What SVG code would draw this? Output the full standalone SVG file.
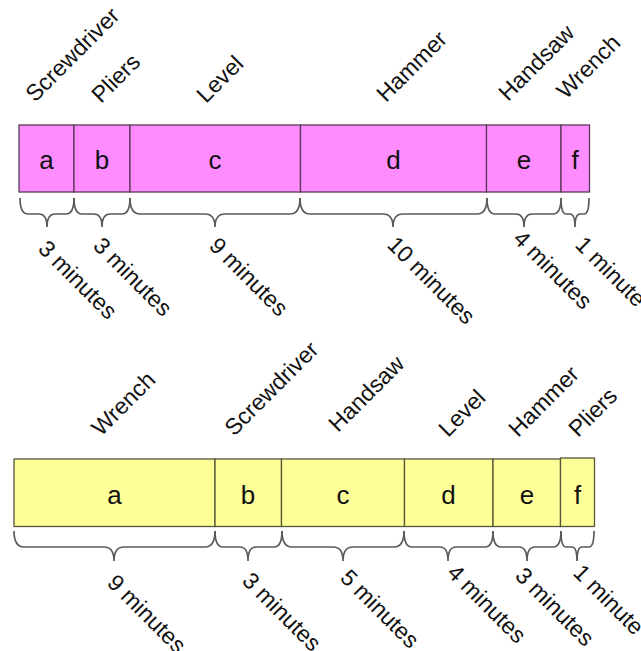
<svg xmlns="http://www.w3.org/2000/svg" width="641" height="651" viewBox="0 0 641 651">
<style>
text{font-family:"Liberation Sans",Arial,sans-serif;fill:#111}
.p{fill:#FF8CFF;stroke:#5a3a5a;stroke-width:1.3}
.y{fill:#FFFF99;stroke:#55553a;stroke-width:1.3}
.l{font-size:26px;text-anchor:middle}
.t{font-size:23px}
.br{fill:none;stroke:#5a5a5a;stroke-width:1.7}
</style>
<rect width="641" height="651" fill="#fff"/>
<g id="top">
<g id="ta"><rect class="p" x="19" y="125" width="55" height="67"/><text class="l" x="46.5" y="169">a</text><text class="t" transform="translate(35,103) rotate(-45)">Screwdriver</text></g>
<g id="tb"><rect class="p" x="74" y="125" width="56" height="67"/><text class="l" x="102" y="169">b</text><text class="t" transform="translate(101,104) rotate(-45)">Pliers</text></g>
<g id="tc"><rect class="p" x="130" y="125" width="170.5" height="67"/><text class="l" x="215" y="169">c</text><text class="t" transform="translate(206,104) rotate(-45)">Level</text></g>
<g id="td"><rect class="p" x="300.5" y="125" width="186" height="67"/><text class="l" x="393.5" y="169">d</text><text class="t" transform="translate(386,103) rotate(-45)">Hammer</text></g>
<g id="te"><rect class="p" x="486.5" y="125" width="74.5" height="67"/><text class="l" x="524" y="169">e</text><text class="t" transform="translate(508,102) rotate(-45)">Handsaw</text></g>
<g id="tf"><rect class="p" x="561" y="125" width="28.5" height="67"/><text class="l" x="575" y="169">f</text><text class="t" transform="translate(566,100) rotate(-45)">Wrench</text></g>
</g>
<g id="bottom">
<g id="ba"><rect class="y" x="14" y="459" width="201" height="67.5"/><text class="l" x="114.5" y="504">a</text><text class="t" transform="translate(101,437) rotate(-45)">Wrench</text></g>
<g id="bb"><rect class="y" x="215" y="459" width="66.5" height="67.5"/><text class="l" x="248" y="504">b</text><text class="t" transform="translate(234,437) rotate(-45)">Screwdriver</text></g>
<g id="bc"><rect class="y" x="281.5" y="459" width="123" height="67.5"/><text class="l" x="343" y="504">c</text><text class="t" transform="translate(338,433) rotate(-45)">Handsaw</text></g>
<g id="bd"><rect class="y" x="404.5" y="459" width="88.5" height="67.5"/><text class="l" x="448.5" y="504">d</text><text class="t" transform="translate(448,438) rotate(-45)">Level</text></g>
<g id="be"><rect class="y" x="493" y="459" width="67.5" height="67.5"/><text class="l" x="527" y="504">e</text><text class="t" transform="translate(518,438) rotate(-45)">Hammer</text></g>
<g id="bf"><rect class="y" x="560.5" y="458" width="34" height="68.5"/><text class="l" x="577.5" y="504">f</text><text class="t" transform="translate(578,438) rotate(-45)">Pliers</text></g>
</g>
<g id="connectors">
<path class="br" d="M20,198 Q20,214 28,214 L39,214 Q47,214 47,227 Q47,214 55,214 L66,214 Q74,214 74,198"/>
<path class="br" d="M74,198 Q74,214 82,214 L94,214 Q102,214 102,227 Q102,214 110,214 L122,214 Q130,214 130,198"/>
<path class="br" d="M130,198 Q130,214 140,214 L205,214 Q215,214 215,227 Q215,214 225,214 L290,214 Q300,214 300,198"/>
<path class="br" d="M300,198 Q300,214 310,214 L383,214 Q393,214 393,227 Q393,214 403,214 L477,214 Q487,214 487,198"/>
<path class="br" d="M487,198 Q487,214 495,214 L516,214 Q524,214 524,227 Q524,214 532,214 L553,214 Q561,214 561,198"/>
<path class="br" d="M561,198 Q561,214 566,214 L570,214 Q575,214 575,227 Q575,214 580,214 L584,214 Q589,214 589,198"/>
<path class="br" d="M14,531 Q14,547 24,547 L104,547 Q114,547 114,561 Q114,547 124,547 L205,547 Q215,547 215,531"/>
<path class="br" d="M215,531 Q215,547 223,547 L240,547 Q248,547 248,561 Q248,547 256,547 L274,547 Q282,547 282,531"/>
<path class="br" d="M282,531 Q282,547 292,547 L333,547 Q343,547 343,561 Q343,547 353,547 L394,547 Q404,547 404,531"/>
<path class="br" d="M404,531 Q404,547 412,547 L440,547 Q448,547 448,561 Q448,547 456,547 L485,547 Q493,547 493,531"/>
<path class="br" d="M493,531 Q493,547 501,547 L519,547 Q527,547 527,561 Q527,547 535,547 L553,547 Q561,547 561,531"/>
<path class="br" d="M561,531 Q561,547 566,547 L572,547 Q577,547 577,561 Q577,547 582,547 L589,547 Q594,547 594,531"/>
</g>
<g id="durations">
<text class="t" transform="translate(37,250) rotate(45)">3 minutes</text>
<text class="t" transform="translate(92,247) rotate(45)">3 minutes</text>
<text class="t" transform="translate(208,247) rotate(45)">9 minutes</text>
<text class="t" transform="translate(386,246) rotate(45)">10 minutes</text>
<text class="t" transform="translate(512,240) rotate(45)">4 minutes</text>
<text class="t" transform="translate(574,246) rotate(45)">1 minute</text>
<text class="t" transform="translate(106,584) rotate(45)">9 minutes</text>
<text class="t" transform="translate(241,582) rotate(45)">3 minutes</text>
<text class="t" transform="translate(339,579) rotate(45)">5 minutes</text>
<text class="t" transform="translate(446,574) rotate(45)">4 minutes</text>
<text class="t" transform="translate(514,577) rotate(45)">3 minutes</text>
<text class="t" transform="translate(572,574) rotate(45)">1 minute</text>
</g>
</svg>
